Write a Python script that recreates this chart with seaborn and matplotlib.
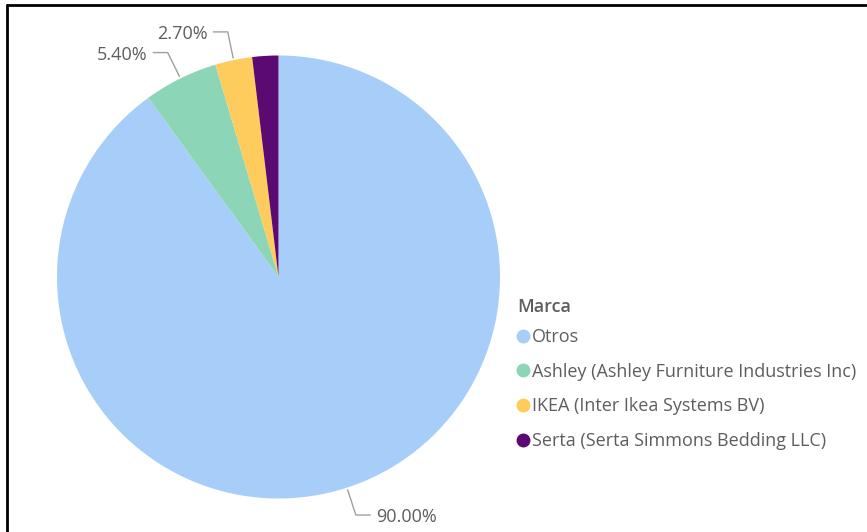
import numpy as np
import matplotlib
matplotlib.use("Agg")
import matplotlib.pyplot as plt
from matplotlib.lines import Line2D
import seaborn as sns

# ---- data ----
categories = ["Otros", "Ashley (Ashley Furniture Industries Inc)",
              "IKEA (Inter Ikea Systems BV)", "Serta (Serta Simmons Bedding LLC)"]
shares = [90.0, 5.4, 2.7, 1.9]
label_texts = ["90.00%", "5.40%", "2.70%", None]
colors = ["#A6CEF8", "#8CD6B7", "#FECB5D", "#5B0A72"]
legend_title = "Marca"

sns.set_style("white")
plt.rcParams["font.family"] = ["Open Sans", "DejaVu Sans"]

W, H = 867, 532
fig = plt.figure(figsize=(W / 100, H / 100), dpi=100)
fig.patch.set_facecolor("white")

cx, cy, r = 278.5, 277.0, 221.5
ax = fig.add_axes([(cx - r) / W, (H - cy - r) / H, 2 * r / W, 2 * r / H])
wedges, _ = ax.pie(shares, colors=colors, startangle=90, counterclock=False,
                   wedgeprops=dict(linewidth=0))
ax.set_xlim(-1, 1)
ax.set_ylim(-1, 1)
ax.set_aspect("equal")
ax.axis("off")

grey = "#605E5C"
line_grey = "#A19F9D"
for w, lab in zip(wedges, label_texts):
    if lab is None:
        continue
    ang = np.deg2rad((w.theta1 + w.theta2) / 2)
    x0, y0 = np.cos(ang), np.sin(ang)
    x1, y1 = 1.13 * x0, 1.13 * y0
    side = 1 if x0 >= 0 else -1
    x2 = x1 + side * 0.065
    ax.plot([x0 * 1.01, x1, x2], [y0 * 1.01, y1, y1], color=line_grey, lw=1,
            clip_on=False)
    ax.text(x2 + side * 0.025, y1 - 0.01, lab, ha="left" if side > 0 else "right",
            va="center", fontsize=13, color=grey, clip_on=False)

handles = [Line2D([0], [0], marker="o", linestyle="none", markersize=9,
                  markerfacecolor=c, markeredgecolor=c) for c in colors]
leg = fig.legend(handles, categories, loc="upper left",
                 bbox_to_anchor=(518 / W, (H - 327) / H), frameon=False,
                 fontsize=13, handlelength=0.5,
                 handletextpad=0.2, labelspacing=0.93, borderaxespad=0,
                 borderpad=0.05)
for t in leg.get_texts():
    t.set_color(grey)
fig.text(517 / W, 1 - 307 / H, legend_title, ha="left", va="center",
         fontsize=13, fontweight="semibold", color=grey)

# frame
fig.add_artist(Line2D([7 / W, 7 / W], [0, 1 - 5 / H], color="black", lw=2,
                      transform=fig.transFigure))
fig.add_artist(Line2D([7 / W, 866 / W], [1 - 5 / H, 1 - 5 / H], color="black",
                      lw=2, transform=fig.transFigure))

fig.savefig("out.png", dpi=100)
